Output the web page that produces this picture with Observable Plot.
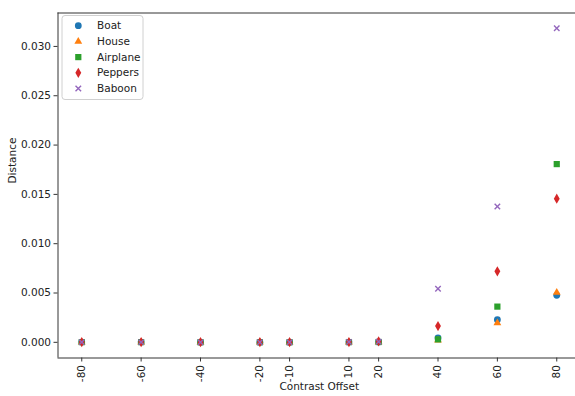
<!DOCTYPE html>
<html>
<head>
<meta charset="utf-8">
<script src="https://cdn.jsdelivr.net/npm/d3@7"></script>
<script src="https://cdn.jsdelivr.net/npm/@observablehq/plot@0.6"></script>
<style>
  html, body { margin: 0; padding: 0; background: white; overflow: hidden; }
  #chart svg { overflow: hidden; max-width: none; }
</style>
</head>
<body>
<div id="chart"></div>
<script>
const offsets = [-80, -60, -40, -20, -10, 10, 20, 40, 60, 80];
const boat     = [0.00002, 0.00002, 0.00001, 0.00001, 0.00001, 0.00002, 0.00004, 0.00045, 0.00230, 0.00476];
const house    = [0.00001, 0.00001, 0.00001, 0.00001, 0.00001, 0.00002, 0.00003, 0.00020, 0.00196, 0.00504];
const airplane = [0.00002, 0.00002, 0.00001, 0.00001, 0.00001, 0.00002, 0.00003, 0.00030, 0.00362, 0.01807];
const peppers  = [0.00002, 0.00002, 0.00001, 0.00001, 0.00001, 0.00003, 0.00010, 0.00165, 0.00720, 0.01456];
const baboon   = [0.00002, 0.00002, 0.00001, 0.00001, 0.00001, 0.00003, 0.00005, 0.00544, 0.01378, 0.03185];
const seriesNames = ["Boat", "House", "Airplane", "Peppers", "Baboon"];
const seriesColors = ["#1f77b4", "#ff7f0e", "#2ca02c", "#d62728", "#9467bd"];
const seriesSymbols = ["circle", "triangle", "square", "diamond", "times"];
const yTicks = [0, 0.005, 0.010, 0.015, 0.020, 0.025, 0.030];
const xLabel = "Contrast Offset";
const yLabel = "Distance";

const seriesValues = [boat, house, airplane, peppers, baboon];
const symbolR = {circle: 3.4, triangle: 2.9, square: 3.5, diamond: 3.1, times: 2.6};

const font = "DejaVu Sans, sans-serif";
const fs = 10.5;
const ink = "#222";

const dotMarks = seriesNames.map((name, i) => {
  const data = offsets.map((x, j) => ({x, y: seriesValues[i][j]}));
  const sym = seriesSymbols[i];
  if (sym === "times") {
    return Plot.dot(data, {x: "x", y: "y", symbol: sym, r: symbolR[sym], stroke: seriesColors[i], fill: "none", strokeWidth: 1.4});
  }
  return Plot.dot(data, {x: "x", y: "y", symbol: sym, r: symbolR[sym], fill: seriesColors[i], stroke: "none"});
});

const chart = Plot.plot({
  width: 575,
  height: 396,
  marginLeft: 57.5,
  marginRight: 0,
  marginTop: 12.5,
  marginBottom: 38.5,
  style: {fontFamily: font, fontSize: fs + "px", color: ink, background: "white"},
  x: {domain: [-88, 88], range: [57.5, 580]},
  y: {domain: [-0.00159, 0.03339]},
  marks: [
    Plot.axisX({ticks: offsets, tickFormat: d => String(d), tickRotate: -90, tickSize: 4, tickPadding: 3, label: null, stroke: "#333", fontSize: fs}),
    Plot.axisY({ticks: yTicks, tickFormat: d3.format(".3f"), tickSize: 4, tickPadding: 3, label: null, stroke: "#333", fontSize: fs}),
    Plot.ruleX([-88], {stroke: "#333", strokeWidth: 1}),
    Plot.ruleY([-0.00159, 0.03339], {stroke: "#333", strokeWidth: 1}),
    ...dotMarks,
    Plot.text([xLabel], {text: d => d, frameAnchor: "bottom", dy: 32, dx: 2.5, fontSize: fs, fill: ink}),
    Plot.text([yLabel], {text: d => d, frameAnchor: "left", rotate: -90, dx: -45, dy: -2, fontSize: fs, fill: ink})
  ]
});

document.getElementById("chart").appendChild(chart);

// legend inside the axes (upper left)
const svg = d3.select(chart);
const lg = svg.append("g").attr("font-family", font).attr("font-size", fs).attr("text-anchor", "start");
lg.append("rect")
  .attr("x", 62).attr("y", 15.5).attr("width", 81).attr("height", 84)
  .attr("rx", 3).attr("fill", "white").attr("fill-opacity", 0.8)
  .attr("stroke", "#d0d0d0").attr("stroke-width", 1);
const symMap = {circle: d3.symbolCircle, triangle: d3.symbolTriangle, square: d3.symbolSquare, diamond: d3.symbolDiamond, times: d3.symbolTimes};
seriesNames.forEach((name, i) => {
  const y = 25.7 + i * 15.7;
  const sym = seriesSymbols[i];
  const r = symbolR[sym];
  const p = lg.append("path").attr("transform", `translate(78.3,${y})`);
  if (sym === "times") {
    p.attr("d", d3.symbol(symMap[sym], 22)()).attr("fill", "none").attr("stroke", seriesColors[i]).attr("stroke-width", 1.4);
  } else {
    p.attr("d", d3.symbol(symMap[sym], Math.PI * r * r)()).attr("fill", seriesColors[i]);
  }
  lg.append("text").attr("x", 97).attr("y", y).attr("dy", "0.35em").attr("fill", ink).text(name);
});
</script>
</body>
</html>
